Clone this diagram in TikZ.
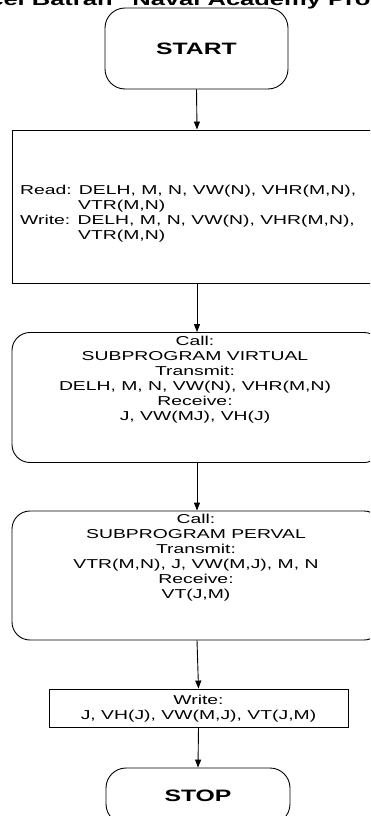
\documentclass[tikz,border=0pt]{standalone}
\usepackage{fontspec}
\newfontfamily\flowfont{Liberation Sans}[FakeStretch=1.5]
\usetikzlibrary{arrows.meta, positioning, calc}

\tikzset{
  box/.style={draw, line width=0.9pt, inner sep=0pt},
  roundbox/.style={box, rounded corners=18pt},
  flowtext/.style={font=\flowfont\fontsize{12.9}{15}\selectfont, align=center, inner sep=0pt},
  termtext/.style={font=\flowfont\bfseries\fontsize{16.5}{18}\selectfont, inner sep=0pt},
  flowarrow/.style={-{Triangle[length=8pt,width=6pt]}, line width=0.9pt},
}

\begin{document}
\begin{tikzpicture}[x=1pt, y=-1pt]
        % page size of the scan, everything outside is cut off
        \useasboundingbox (0,0) rectangle (370,816);
        \clip (0,0) rectangle (370,816);
        % cut header line at the top
        \node[anchor=base, inner sep=0pt, font=\flowfont\bfseries\fontsize{17}{19}\selectfont] (header) at (180,6) {cel Batran” Naval Academy Pro};
        % start terminal
        \node[roundbox, rounded corners=20pt, minimum width=183pt, minimum height=81pt] (start) at (196.5,48.5) {};
        \node[termtext] (starttxt) at (start.center) {START};
        % read / write block
        \node[box, minimum width=370pt, minimum height=153pt] (read) at (197,206.5) {};
        \node[flowtext, align=left, anchor=west] (readtxt) at (20,214) {Read: DELH, M, N, VW(N), VHR(M,N),\\
          \hspace*{58pt}VTR(M,N)\\
          Write: DELH, M, N, VW(N), VHR(M,N),\\
          \hspace*{58pt}VTR(M,N)};
        % call of subprogram VIRTUAL
        \node[roundbox, minimum width=370pt, minimum height=130pt] (virtual) at (197,397.5) {};
        \node[flowtext] (virtualtxt) at (195,380) {Call:\\ SUBPROGRAM VIRTUAL\\ Transmit:\\
          DELH, M, N, VW(N), VHR(M,N)\\ Receive:\\ J, VW(MJ), VH(J)};
        % call of subprogram PERVAL
        \node[roundbox, minimum width=370pt, minimum height=129pt] (perval) at (197,575.5) {};
        \node[flowtext] (pervaltxt) at (196,558) {Call:\\ SUBPROGRAM PERVAL\\ Transmit:\\
          VTR(M,N), J, VW(M,J), M, N\\ Receive:\\ VT(J,M)};
        % output block
        \node[box, minimum width=299pt, minimum height=38pt] (write) at (198.5,708) {};
        \node[flowtext] (writetxt) at (198.5,709) {Write:\\ J, VH(J), VW(M,J), VT(J,M)};
        % stop terminal
        \node[roundbox, rounded corners=20pt, minimum width=184pt, minimum height=56pt] (stop) at (198,796) {};
        \node[termtext] (stoptxt) at (stop.center) {STOP};
        % connectors
        \draw[flowarrow] (start.south) -- (read.north);
        \draw[flowarrow] (read.south) -- (virtual.north);
        \draw[flowarrow] (virtual.south) -- (perval.north);
        \draw[flowarrow] (perval.south) -- (write.north);
        \draw[flowarrow] (write.south) -- (stop.north);
    \end{tikzpicture}
\end{document}
